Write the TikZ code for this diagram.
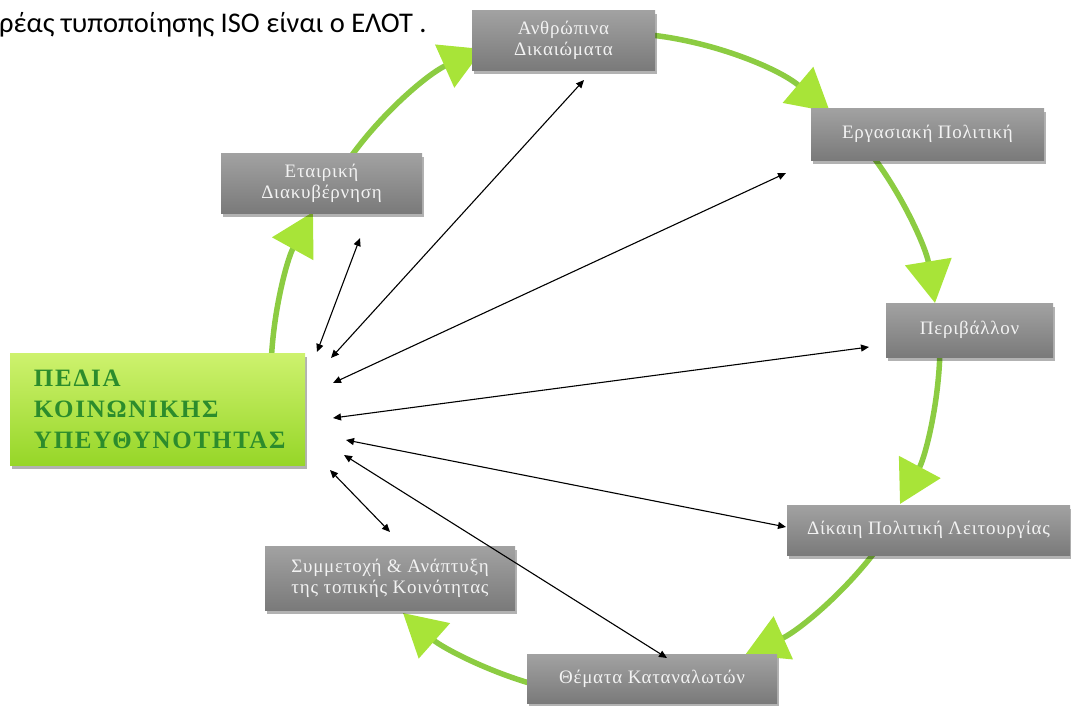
\documentclass[tikz,border=0pt]{standalone}
\usepackage{fontspec}
\setmainfont{Liberation Serif}
\newfontfamily\calib{Carlito}
\newfontfamily\boxfont[LetterSpace=4]{Liberation Serif}
\newfontfamily\titlefont[LetterSpace=7]{Liberation Serif}
\usetikzlibrary{arrows.meta,shadows}
\definecolor{boxtop}{RGB}{162,162,162}
\definecolor{boxbot}{RGB}{122,122,122}
\definecolor{boxtext}{RGB}{242,242,242}
\definecolor{titletop}{RGB}{206,242,110}
\definecolor{titlebot}{RGB}{150,214,40}
\definecolor{titletext}{RGB}{44,140,44}
\definecolor{ringgreen}{RGB}{140,204,66}
\definecolor{headgreen}{RGB}{168,228,56}
\begin{document}
\begin{tikzpicture}[x=1pt,y=-1pt,
  graybox/.style={rectangle, top color=boxtop, bottom color=boxbot, draw=none,
    text=boxtext, align=center, inner sep=2pt,
    font=\boxfont\fontsize{19}{21}\selectfont,
    drop shadow={shadow xshift=2pt, shadow yshift=-4pt, opacity=0.3, fill=black}},
  titlebox/.style={rectangle, top color=titletop, bottom color=titlebot, draw=none,
    text=titletext, align=left, inner xsep=24pt, inner ysep=0pt,
    font=\titlefont\bfseries\fontsize{25}{31}\selectfont,
    drop shadow={shadow xshift=2pt, shadow yshift=-4pt, opacity=0.3, fill=black}},
  ring/.style={draw=ringgreen, line width=5.5pt, bend left=#1, looseness=0.85,
    -{Triangle[length=42pt,width=46pt,color=headgreen]}},
  dbl/.style={{Triangle[length=8pt,width=7pt]}-{Triangle[length=8pt,width=7pt]},
    line width=1.1pt, black}
]
\useasboundingbox (0,0) rectangle (1071,705);

% header text
\node[anchor=base west, inner sep=0pt, font=\calib\fontsize{28.5}{30}\selectfont] (hdr) at (-1,32)
  {ρέας τυποποίησης ISO είναι ο ΕΛΟΤ .};

% ring coordinates
\coordinate (g1s) at (271,370); \coordinate (g1e) at (313,212);
\coordinate (g2s) at (345,165); \coordinate (g2e) at (483,49);
\coordinate (g3s) at (640,34);  \coordinate (g3e) at (830,112);
\coordinate (g4s) at (868,150); \coordinate (g4e) at (935,303);
\coordinate (g5s) at (940,345); \coordinate (g5e) at (900,504);
\coordinate (g6s) at (880,545); \coordinate (g6e) at (745,655);
\coordinate (g7s) at (540,686); \coordinate (g7e) at (403,613);

\draw[ring=14] (g1s) to (g1e);
\draw[ring=16] (g2s) to (g2e);
\draw[ring=18] (g3s) to (g3e);
\draw[ring=14.5] (g4s) to (g4e);
\draw[ring=14] (g5s) to (g5e);
\draw[ring=15] (g6s) to (g6e);
\draw[ring=13.5] (g7s) to (g7e);

% boxes
\node[graybox, minimum width=183pt, minimum height=60pt] (anth) at (563.5,40) {Ανθρώπινα\\Δικαιώματα};
\node[graybox, minimum width=233pt, minimum height=52pt] (erg) at (927.5,134) {Εργασιακή Πολιτική};
\node[graybox, minimum width=167pt, minimum height=54pt] (peri) at (969.5,330) {Περιβάλλον};
\node[graybox, minimum width=283pt, minimum height=50pt] (dik) at (928.5,530) {Δίκαιη Πολιτική Λειτουργίας};
\node[graybox, minimum width=250pt, minimum height=49pt] (them) at (652,678.5) {Θέματα Καταναλωτών};
\node[graybox, minimum width=250pt, minimum height=64pt] (symm) at (390,578) {Συμμετοχή \& Ανάπτυξη\\της τοπικής Κοινότητας};
\node[graybox, minimum width=201pt, minimum height=60pt] (etair) at (321.5,183) {Εταιρική\\Διακυβέρνηση};
\node[titlebox, text width=247pt, minimum height=112pt] (title) at (157.5,409) {ΠΕΔΙΑ\\ΚΟΙΝΩΝΙΚΗΣ\\ΥΠΕΥΘΥΝΟΤΗΤΑΣ};

% double arrows
\coordinate (h1) at (317,352); \coordinate (e1) at (360,238);
\coordinate (h2) at (331,358); \coordinate (e2) at (584,80);
\coordinate (h3) at (333,383); \coordinate (e3) at (786,173);
\coordinate (h4) at (333,418); \coordinate (e4) at (869,347);
\coordinate (h5) at (346,440); \coordinate (e5) at (786,527);
\coordinate (h6) at (344,455); \coordinate (e6) at (667,658);
\coordinate (h7) at (330,470); \coordinate (e7) at (390,532);
\foreach \i in {1,...,7}{\draw[dbl] (h\i) -- (e\i);}
\end{tikzpicture}
\end{document}
